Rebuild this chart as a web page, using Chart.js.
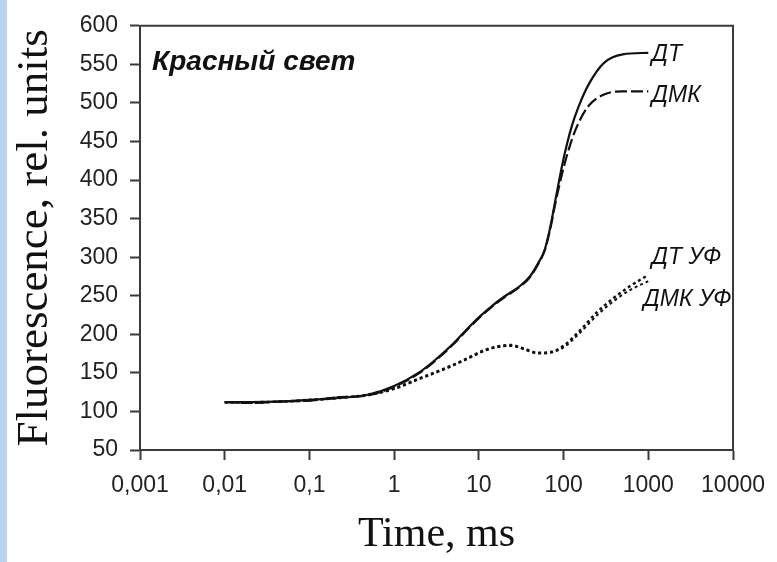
<!DOCTYPE html>
<html>
<head>
<meta charset="utf-8">
<script src="https://cdn.jsdelivr.net/npm/chart.js@4/dist/chart.umd.min.js"></script>
<style>
  html, body { margin: 0; padding: 0; }
  body { width: 777px; height: 562px; background: linear-gradient(to right, #b9d3ee 0 7px, #fff 7px); }
  #wrap { position: absolute; left: 0; top: 0; width: 777px; height: 562px; }
</style>
</head>
<body>
<div id="wrap"><canvas id="chart" width="777" height="562"></canvas></div>
<script>
// time, ms
const timeDT = [0.01, 0.02, 0.05, 0.1, 0.2, 0.5, 1, 2, 3, 5, 7, 10, 14, 20, 30, 40, 50, 60, 70, 80, 100, 125, 150, 200, 300, 500, 1000];
const valuesDT = [112, 112, 113, 115, 117, 122, 133, 151, 166, 188, 205, 222, 236, 249, 262, 275, 292, 310, 340, 374, 428, 470, 495, 525, 552, 563, 565];
const timeDMK = [0.01, 0.02, 0.05, 0.1, 0.2, 0.5, 1, 2, 3, 5, 7, 10, 14, 20, 30, 40, 50, 60, 70, 80, 100, 125, 150, 200, 300, 500, 1000];
const valuesDMK = [112, 111, 113, 114, 118, 121, 132, 150, 165, 187, 204, 221, 235, 248, 261, 274, 291, 309, 338, 370, 416, 452, 474, 497, 511, 515, 515];
const timeUV = [0.01, 0.02, 0.05, 0.1, 0.2, 0.5, 1, 2, 4, 7, 12, 18, 24, 35, 50, 70, 100, 150, 250, 400, 600, 1000];
const valuesDTUV = [112, 112, 113, 115, 117, 122, 130, 143, 156, 168, 180, 185, 186, 181, 176, 177, 185, 203, 229, 248, 262, 277];
const valuesDMKUV = [112, 111, 113, 114, 118, 121, 129, 142, 155, 167, 179, 184, 185, 180, 175, 176, 183, 200, 225, 244, 257, 269];

const xTicks = [0.001, 0.01, 0.1, 1, 10, 100, 1000, 10000];
const xTickLabels = ['0,001', '0,01', '0,1', '1', '10', '100', '1000', '10000'];

// curve labels (text anchors in data units)
const labelNames = ['ДТ', 'ДМК', 'ДТ УФ', 'ДМК УФ'];
const labelTimes = [1100, 1100, 1100, 880];
const labelValues = [563, 509, 300, 245];
const panelTitle = 'Красный свет';

const toPoints = (xs, ys) => xs.map((x, i) => ({ x, y: ys[i] }));

const framePlugin = {
  id: 'frame',
  afterDraw(chart) {
    const { ctx, chartArea: a, scales } = chart;
    ctx.save();
    ctx.strokeStyle = '#3a3a3a';
    ctx.lineWidth = 2;
    ctx.beginPath();
    ctx.moveTo(a.left, a.top);
    ctx.lineTo(a.right, a.top);
    ctx.lineTo(a.right, a.bottom);
    ctx.stroke();

    ctx.fillStyle = '#111';
    ctx.textBaseline = 'middle';
    ctx.textAlign = 'left';
    ctx.font = 'italic 23px "Liberation Sans", Arial, sans-serif';
    labelNames.forEach((name, i) => {
      ctx.fillText(name, scales.x.getPixelForValue(labelTimes[i]), scales.y.getPixelForValue(labelValues[i]));
    });
    ctx.font = 'italic bold 28px "Liberation Sans", Arial, sans-serif';
    ctx.fillText(panelTitle, a.left + 12, a.top + 36);
    ctx.restore();
  }
};

new Chart(document.getElementById('chart'), {
  type: 'scatter',
  data: {
    datasets: [
      { label: 'ДТ', data: toPoints(timeDT, valuesDT), showLine: true, borderColor: '#111', borderWidth: 2.2, pointRadius: 0, cubicInterpolationMode: 'monotone' },
      { label: 'ДМК', data: toPoints(timeDMK, valuesDMK), showLine: true, borderColor: '#111', borderWidth: 2.2, borderDash: [12, 4], pointRadius: 0, cubicInterpolationMode: 'monotone' },
      { label: 'ДТ УФ', data: toPoints(timeUV, valuesDTUV), showLine: true, borderColor: '#111', borderWidth: 2.5, borderDash: [3, 3], pointRadius: 0, cubicInterpolationMode: 'monotone' },
      { label: 'ДМК УФ', data: toPoints(timeUV, valuesDMKUV), showLine: true, borderColor: '#111', borderWidth: 2, borderDash: [3, 3], pointRadius: 0, cubicInterpolationMode: 'monotone' }
    ]
  },
  options: {
    responsive: false,
    animation: false,
    layout: { padding: { top: 19, right: 41, left: 0, bottom: 0 } },
    plugins: { legend: { display: false }, tooltip: { enabled: false } },
    scales: {
      x: {
        type: 'logarithmic',
        min: 0.001,
        max: 10000,
        afterBuildTicks: (s) => { s.ticks = xTicks.map(v => ({ value: v })); },
        afterFit: (s) => { s.height = 112; },
        ticks: {
          autoSkip: false,
          maxRotation: 0,
          padding: 12,
          color: '#222',
          font: { family: '"Liberation Sans", Arial, sans-serif', size: 23 },
          callback: (v) => xTickLabels[xTicks.indexOf(v)] ?? ''
        },
        grid: { drawOnChartArea: false, tickLength: 10, tickColor: '#3a3a3a', tickWidth: 2 },
        border: { color: '#3a3a3a', width: 2 },
        title: {
          display: true,
          text: 'Time, ms',
          color: '#111',
          font: { family: '"Liberation Serif", "Times New Roman", serif', size: 42 },
          padding: { top: 0, bottom: 2 }
        }
      },
      y: {
        min: 50,
        max: 600,
        afterFit: (s) => { s.width = 140; },
        ticks: {
          stepSize: 50,
          padding: 12,
          color: '#222',
          font: { family: '"Liberation Sans", Arial, sans-serif', size: 23 }
        },
        grid: { drawOnChartArea: false, tickLength: 10, tickColor: '#3a3a3a', tickWidth: 2 },
        border: { color: '#3a3a3a', width: 2 },
        title: {
          display: true,
          text: 'Fluorescence, rel. units',
          color: '#111',
          font: { family: '"Liberation Serif", "Times New Roman", serif', size: 45 },
          padding: { top: 8, bottom: 0 }
        }
      }
    }
  },
  plugins: [framePlugin]
});
</script>
</body>
</html>
